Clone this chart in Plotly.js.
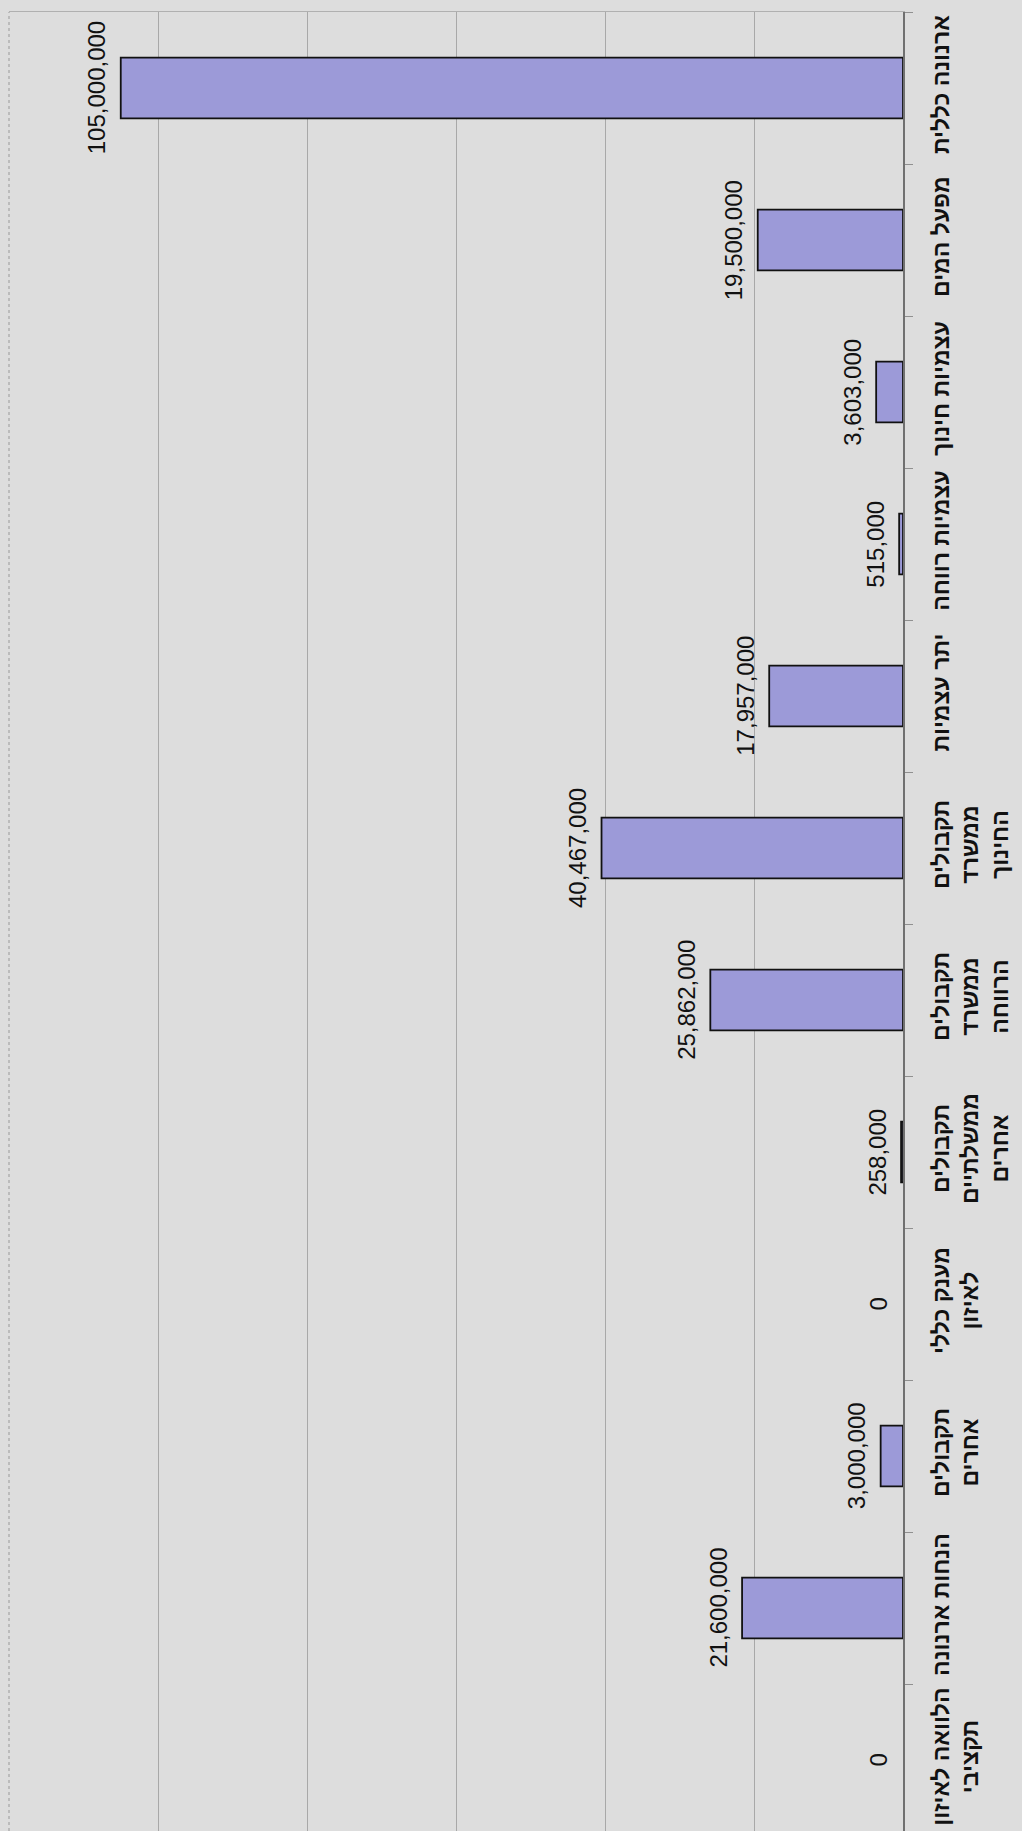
<!DOCTYPE html>
<html>
<head>
<meta charset="utf-8">
<script src="https://cdn.plot.ly/plotly-3.0.1.min.js"></script>
<style>html,body{margin:0;padding:0;background:#dddddd;}</style>
</head>
<body>
<div id="chart" style="width:1022px;height:1831px;"></div>
<script>
// Categories (top to bottom)
const categories = [
  'ארנונה כללית',
  'מפעל המים',
  'עצמיות חינוך',
  'עצמיות רווחה',
  'יתר עצמיות',
  'תקבולים ממשרד החינוך',
  'תקבולים ממשרד הרווחה',
  'תקבולים ממשלתיים אחרים',
  'מענק כללי לאיזון',
  'תקבולים אחרים',
  'הנחות ארנונה',
  'הלוואה לאיזון תקציבי'
];
// Tick labels as they wrap in the chart
const tickLabels = [
  'ארנונה כללית',
  'מפעל המים',
  'עצמיות חינוך',
  'עצמיות רווחה',
  'יתר עצמיות',
  'תקבולים<br>ממשרד<br>החינוך',
  'תקבולים<br>ממשרד<br>הרווחה',
  'תקבולים<br>ממשלתיים<br>אחרים',
  'מענק כללי<br>לאיזון',
  'תקבולים<br>אחרים',
  'הנחות ארנונה',
  'הלוואה לאיזון<br>תקציבי'
];
// Values
const values = [105000000, 19500000, 3603000, 515000, 17957000, 40467000, 25862000, 258000, 0, 3000000, 21600000, 0];

const fmt = v => v.toLocaleString('en-US');

const trace = {
  type: 'bar',
  orientation: 'h',
  x: values,
  y: categories,
  width: 0.4,
  marker: {
    color: '#9c9ad8',
    line: {color: '#111111', width: values.map(v => v === 0 ? 0 : 1.8)}
  },
  hoverinfo: 'none'
};

const annotations = categories.map((c, i) => ({
  x: values[i], y: c, xref: 'x', yref: 'y',
  text: fmt(values[i]), showarrow: false,
  textangle: -90, xanchor: 'right', yanchor: 'middle', xshift: -9,
  font: {family: 'Liberation Sans, Arial, sans-serif', size: 24, color: '#111111'}
}));

const layout = {
  width: 1022, height: 1831,
  margin: {l: 9, r: 119, t: 12, b: 0},
  paper_bgcolor: '#dddddd',
  plot_bgcolor: '#dddddd',
  showlegend: false,
  xaxis: {
    range: [120000000, 0],
    dtick: 20000000,
    tick0: 0,
    showticklabels: false,
    showgrid: true,
    gridcolor: '#a8a8a8',
    gridwidth: 1,
    zeroline: false,
    side: 'top',
    showline: true,
    linecolor: '#b0b0b0',
    linewidth: 1.5,
    fixedrange: true
  },
  yaxis: {
    type: 'category',
    range: [11.467, -0.5],
    side: 'right',
    tickmode: 'array',
    tickvals: categories,
    ticktext: tickLabels,
    tickangle: -90,
    ticks: 'outside',
    tickson: 'boundaries',
    ticklen: 8,
    tickcolor: '#909090',
    ticklabelstandoff: 16,
    showline: true,
    linecolor: '#707070',
    linewidth: 2,
    showgrid: false,
    zeroline: false,
    tickfont: {family: 'Liberation Sans, Arial, sans-serif', size: 23, color: '#111111', weight: 'bold'},
    fixedrange: true
  },
  shapes: [{
    type: 'line', xref: 'paper', yref: 'paper', x0: 0, x1: 0, y0: 0, y1: 1,
    line: {color: '#b0b0b0', width: 1.5, dash: 'dot'}
  }],
  annotations: annotations
};

Plotly.newPlot('chart', [trace], layout, {staticPlot: true, displayModeBar: false});
</script>
</body>
</html>
